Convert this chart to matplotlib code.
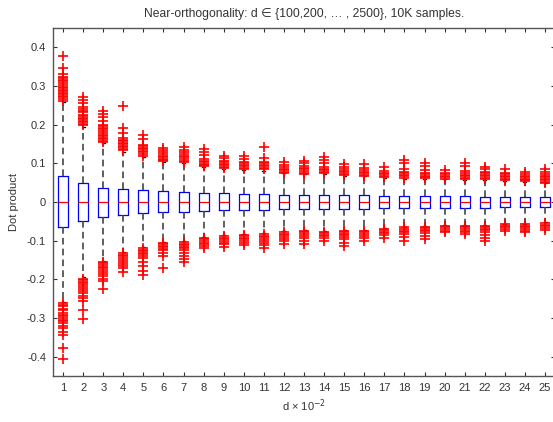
import matplotlib.pyplot as plt
from matplotlib.ticker import FixedLocator, FuncFormatter

plt.rcParams['font.family'] = ['Liberation Sans', 'DejaVu Sans']
plt.rcParams['axes.unicode_minus'] = False

# d / 100
positions = list(range(1, 26))

# box statistics
medians = [0.001, 0.0, 0.001, 0.001, -0.001, 0.001, 0.0, 0.0, 0.001, 0.0,
           0.0, 0.001, 0.001, -0.001, 0.0, 0.0, 0.001, 0.001, 0.0, 0.0,
           0.001, 0.0, 0.0, 0.0, 0.001]
q1 = [-0.064, -0.049, -0.038, -0.033, -0.029, -0.026, -0.025, -0.024, -0.022, -0.021,
      -0.020, -0.019, -0.019, -0.018, -0.017, -0.017, -0.016, -0.016, -0.016, -0.015,
      -0.015, -0.015, -0.014, -0.014, -0.014]
q3 = [0.066, 0.048, 0.037, 0.034, 0.031, 0.027, 0.025, 0.023, 0.022, 0.021,
      0.020, 0.019, 0.018, 0.018, 0.018, 0.017, 0.016, 0.016, 0.015, 0.015,
      0.015, 0.014, 0.014, 0.014, 0.013]
whisker_hi = [0.258, 0.194, 0.152, 0.130, 0.116, 0.103, 0.100, 0.090, 0.085, 0.083,
              0.080, 0.074, 0.071, 0.071, 0.068, 0.066, 0.063, 0.060, 0.059, 0.058,
              0.057, 0.056, 0.055, 0.052, 0.048]
whisker_lo = [-0.258, -0.195, -0.153, -0.130, -0.117, -0.103, -0.102, -0.091, -0.086, -0.083,
              -0.081, -0.076, -0.073, -0.075, -0.072, -0.072, -0.067, -0.064, -0.062, -0.060,
              -0.060, -0.059, -0.056, -0.056, -0.053]

# outliers above the upper whisker
fliers_hi = [
    [0.378, 0.345, 0.33, 0.324, 0.32, 0.316, 0.312, 0.308, 0.303, 0.298, 0.294, 0.29,
     0.286, 0.282, 0.278, 0.274, 0.27, 0.266, 0.262],
    [0.272, 0.264, 0.256, 0.246, 0.24, 0.236, 0.232, 0.226, 0.222, 0.218, 0.214, 0.21,
     0.206, 0.202, 0.198],
    [0.235, 0.228, 0.22, 0.21, 0.2, 0.196, 0.192, 0.188, 0.183, 0.178, 0.174, 0.17,
     0.166, 0.162, 0.158, 0.155],
    [0.249, 0.19, 0.178, 0.165, 0.161, 0.157, 0.153, 0.149, 0.145, 0.141, 0.137, 0.133],
    [0.174, 0.162, 0.148, 0.144, 0.14, 0.136, 0.132, 0.128, 0.124, 0.12],
    [0.14, 0.133, 0.128, 0.124, 0.12, 0.116, 0.112, 0.108, 0.105],
    [0.142, 0.135, 0.128, 0.123, 0.119, 0.115, 0.111, 0.107, 0.103],
    [0.137, 0.13, 0.122, 0.111, 0.107, 0.103, 0.099, 0.095, 0.092],
    [0.12, 0.113, 0.107, 0.103, 0.099, 0.095, 0.091, 0.087],
    [0.118, 0.11, 0.104, 0.1, 0.096, 0.092, 0.088, 0.085],
    [0.142, 0.113, 0.104, 0.1, 0.096, 0.092, 0.088, 0.084],
    [0.103, 0.096, 0.09, 0.086, 0.082, 0.078, 0.075],
    [0.107, 0.1, 0.094, 0.088, 0.084, 0.08, 0.076, 0.072],
    [0.115, 0.108, 0.1, 0.09, 0.086, 0.082, 0.078, 0.074],
    [0.097, 0.09, 0.085, 0.081, 0.077, 0.073, 0.069],
    [0.098, 0.088, 0.082, 0.078, 0.074, 0.07, 0.067],
    [0.09, 0.08, 0.076, 0.072, 0.068, 0.064],
    [0.108, 0.1, 0.086, 0.078, 0.074, 0.07, 0.066, 0.062],
    [0.1, 0.092, 0.082, 0.076, 0.072, 0.068, 0.064, 0.061],
    [0.082, 0.076, 0.072, 0.068, 0.064, 0.06],
    [0.1, 0.092, 0.08, 0.074, 0.07, 0.066, 0.062, 0.059],
    [0.09, 0.084, 0.078, 0.074, 0.07, 0.066, 0.062, 0.058],
    [0.084, 0.076, 0.072, 0.068, 0.064, 0.06, 0.056],
    [0.078, 0.072, 0.068, 0.064, 0.06, 0.056, 0.053],
    [0.086, 0.078, 0.072, 0.068, 0.064, 0.06, 0.056, 0.052, 0.049],
]
# outliers below the lower whisker
fliers_lo = [
    [-0.262, -0.266, -0.27, -0.276, -0.28, -0.286, -0.292, -0.296, -0.3, -0.304, -0.308,
     -0.313, -0.32, -0.327, -0.335, -0.345, -0.378, -0.405],
    [-0.198, -0.202, -0.206, -0.21, -0.215, -0.22, -0.225, -0.23, -0.236, -0.242, -0.248,
     -0.255, -0.28, -0.303],
    [-0.155, -0.159, -0.163, -0.167, -0.171, -0.175, -0.18, -0.186, -0.192, -0.198,
     -0.205, -0.226],
    [-0.132, -0.136, -0.14, -0.144, -0.149, -0.155, -0.16, -0.165, -0.172, -0.18],
    [-0.119, -0.123, -0.127, -0.131, -0.135, -0.14, -0.146, -0.155, -0.165, -0.178, -0.19],
    [-0.105, -0.109, -0.113, -0.117, -0.121, -0.125, -0.132, -0.14, -0.172],
    [-0.104, -0.108, -0.112, -0.116, -0.12, -0.125, -0.132, -0.14, -0.147, -0.155],
    [-0.093, -0.097, -0.101, -0.105, -0.11, -0.115, -0.12],
    [-0.088, -0.092, -0.096, -0.1, -0.105, -0.11, -0.117],
    [-0.085, -0.089, -0.093, -0.097, -0.101, -0.106, -0.112],
    [-0.083, -0.087, -0.091, -0.095, -0.1, -0.106, -0.112, -0.12],
    [-0.078, -0.082, -0.086, -0.09, -0.095, -0.102, -0.11],
    [-0.075, -0.079, -0.083, -0.087, -0.092, -0.1, -0.109],
    [-0.077, -0.081, -0.085, -0.089, -0.094, -0.1],
    [-0.074, -0.078, -0.082, -0.086, -0.091, -0.097, -0.105, -0.115],
    [-0.074, -0.078, -0.082, -0.087, -0.093, -0.1],
    [-0.069, -0.073, -0.077, -0.081, -0.086, -0.092],
    [-0.066, -0.07, -0.074, -0.078, -0.083, -0.09, -0.1],
    [-0.064, -0.068, -0.072, -0.076, -0.081, -0.087, -0.096],
    [-0.062, -0.066, -0.07, -0.074, -0.078],
    [-0.062, -0.066, -0.07, -0.074, -0.078, -0.082],
    [-0.061, -0.065, -0.069, -0.073, -0.078, -0.085, -0.093, -0.1],
    [-0.058, -0.062, -0.066, -0.07, -0.074],
    [-0.058, -0.062, -0.066, -0.07, -0.075, -0.079],
    [-0.055, -0.059, -0.063, -0.067, -0.072],
]

yticks = [-0.4, -0.3, -0.2, -0.1, 0, 0.1, 0.2, 0.3, 0.4]

stats = []
for i in range(len(positions)):
    stats.append(dict(med=medians[i], q1=q1[i], q3=q3[i],
                      whislo=whisker_lo[i], whishi=whisker_hi[i],
                      fliers=fliers_hi[i] + fliers_lo[i]))

fig = plt.figure(figsize=(5.53, 4.22), dpi=100)
ax = fig.add_axes([0.0958, 0.109, 0.908, 0.825])

ax.bxp(stats, positions=positions, widths=0.5, capwidths=0.15,
       boxprops=dict(color='blue', linewidth=0.9),
       medianprops=dict(color='red', linewidth=0.9),
       whiskerprops=dict(color='#444444', linestyle=(0, (4, 2.5)), linewidth=1.2),
       capprops=dict(color='black', linewidth=0.9),
       flierprops=dict(marker='+', markeredgecolor='red', markersize=6.5,
                       markeredgewidth=1.2, linestyle='none'))

ax.set_xlim(0.5, 25.5)
ax.set_ylim(-0.45, 0.45)
ax.set_xticks(positions)
ax.set_xticklabels([str(p) for p in positions])
ax.yaxis.set_major_locator(FixedLocator(yticks))
ax.yaxis.set_major_formatter(FuncFormatter(lambda v, pos: f'{v:g}'))

ax.tick_params(direction='in', length=3, width=0.8, top=True, right=True,
               labelsize=8, colors='#333333', pad=5)
for s in ax.spines.values():
    s.set_color('#555555')
    s.set_linewidth(1.0)

ax.set_title('Near-orthogonality: d \u2208 {100,200, \u2026 , 2500}, 10K samples.',
             fontsize=8.7, color='#333333', pad=8)
ax.set_ylabel('Dot product', fontsize=8, color='#333333', labelpad=6)
ax.set_xlabel('d \u00d7 10$^{-2}$', fontsize=8, color='#333333', labelpad=3)

fig.savefig('out.png', dpi=100)
